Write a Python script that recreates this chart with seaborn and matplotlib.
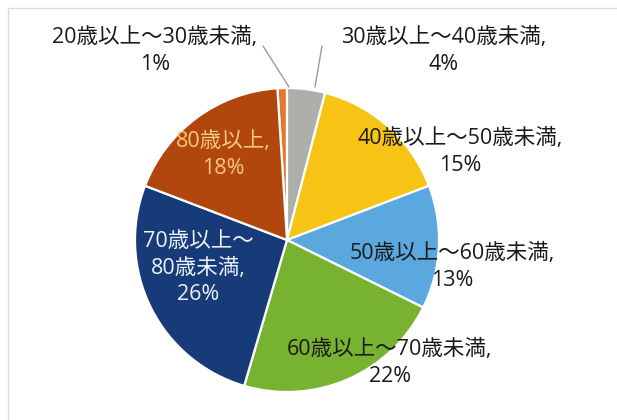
import matplotlib
matplotlib.use("Agg")
import matplotlib.pyplot as plt
import seaborn as sns
from matplotlib.patches import Rectangle

# ---- data ----
categories = ["20歳以上～30歳未満", "30歳以上～40歳未満", "40歳以上～50歳未満",
              "50歳以上～60歳未満", "60歳以上～70歳未満", "70歳以上～80歳未満", "80歳以上"]
values = [1, 4, 15, 13, 22, 26, 18]

# ---- style ----
colors = ["#E8772E", "#ADB0AA", "#F7C315", "#5BA8DE", "#78B231", "#173A78", "#B2470E"]
text_colors = ["#1a1a1a", "#1a1a1a", "#1a1a1a", "#1a1a1a", "#1a1a1a", "#EEF2F8", "#F6C97C"]
# label centre positions in pixel coords (x, y from top)
label_pos = [(155, 51), (444, 51), (460, 152), (452, 267), (390, 363), (198, 268), (223, 155)]

sns.set_theme(style="white")
plt.rcParams['font.family'] = ['Open Sans', 'Noto Sans CJK JP', 'DejaVu Sans']

W, H = 617, 420
fig = plt.figure(figsize=(W / 100, H / 100), dpi=100)
ax = fig.add_axes([0, 0, 1, 1])

total = sum(values)
start = 90 + 360 * values[0] / total
cx, cy, r = 287, 240, 152
ax.pie(values, colors=colors, startangle=start, counterclock=False,
       center=(cx, H - cy), radius=r,
       wedgeprops=dict(edgecolor="white", linewidth=1.6))

ax.set_xlim(0, W)
ax.set_ylim(0, H)
ax.set_aspect("equal")
ax.axis("off")

# frame
ax.add_patch(Rectangle((8, -10), W, H - 8 + 10, fill=False, edgecolor="#dcdcdc", lw=1.0))

# leader lines
ax.plot([263, 289], [H - 46, H - 87], color="#9a9a9a", lw=1.0)
ax.plot([322, 315], [H - 46, H - 87], color="#9a9a9a", lw=1.0)

for i, (cat, val) in enumerate(zip(categories, values)):
    if i == 5:
        txt = "70歳以上～\n80歳未満,\n" + f"{val}%"
    else:
        txt = f"{cat},\n{val}%"
    x, y = label_pos[i]
    ax.text(x, H - y, txt, ha="center", va="center", multialignment="center",
            fontsize=15.5, color=text_colors[i], linespacing=1.33)

fig.savefig("out.png", dpi=100, facecolor="white")
